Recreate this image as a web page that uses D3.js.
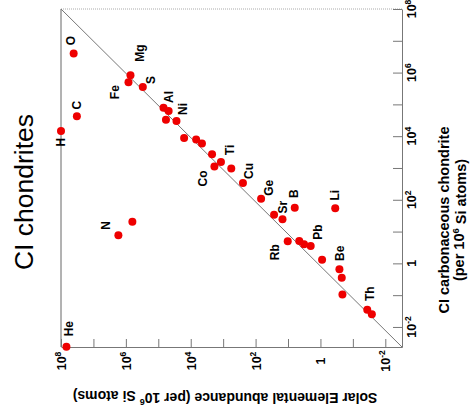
<!DOCTYPE html>
<html>
<head>
<meta charset="utf-8">
<script src="https://cdn.jsdelivr.net/npm/d3@7"></script>
<style>
  body { margin: 0; background: #fff; }
  svg { display: block; }
</style>
</head>
<body>
<div id="chart"></div>
<script>
// element names ("" = unlabelled point)
const elements = ["H", "He", "O", "C", "", "N", "Mg", "Fe", "S", "", "Al", "", "Ni", "", "", "", "",
  "Ti", "Co", "", "Cu", "Ge", "", "Sr", "B", "Li", "Rb", "", "", "Pb", "", "Be", "", "", "Th", ""];

// solar abundance (per 10^6 Si atoms)
const solar = [1.0e8, 6.8e7, 4.07e7, 3.24e7, 6.3e5, 1.7e6, 7.2e5, 8.3e5, 3.0e5, 6.9e4, 4.8e4, 5.8e4, 2.75e4,
  1.6e4, 6.8e3, 4.5e3, 2.2e3, 1.17e3, 1.86e3, 562, 245, 67.6, 26.9, 14.8, 6.2, 0.35, 10.2, 4.5, 3.2, 2.0,
  0.89, 0.26, 0.22, 0.21, 0.036, 0.026];

// CI carbonaceous chondrite (per 10^6 Si atoms)
const chondrite = [1.45e4, 2.4e-3, 3.98e6, 4.27e4, 20.4, 7.6, 8.3e5, 5.0e5, 3.5e5, 7.9e4, 6.2e4, 3.3e4, 3.0e4,
  8.7e3, 7.8e3, 5.9e3, 2.7e3, 1.55e3, 1.12e3, 955, 339, 107, 33.9, 24.5, 56, 54, 5.0, 5.1, 4.0, 3.5,
  1.29, 0.65, 0.35, 0.105, 0.035, 0.025];

const tickExponents = [8, 7, 6, 5, 4, 3, 2, 1, 0, -1, -2];
const labelExponents = [8, 6, 4, 2, 0, -2];

const W = 470, H = 417;
const plot = {left: 61, right: 402, top: 9, bottom: 347};
const font = "'Liberation Sans', Arial, Helvetica, sans-serif";

const svg = d3.select("#chart").append("svg")
  .attr("width", W).attr("height", H)
  .style("font-family", font);

// solar runs right-to-left along the bottom, chondrite bottom-to-top on the right
const x = d3.scaleLog().domain([1e8, Math.pow(10, -2.515)]).range([plot.left, plot.right]);
const y = d3.scaleLog().domain([Math.pow(10, -2.63), 1e8]).range([plot.bottom, plot.top]);

const data = elements.map((e, i) => ({ name: e, solar: solar[i], ci: chondrite[i] }));

// frame: top and left edges are faint
svg.append("line").attr("x1", plot.left).attr("x2", plot.right).attr("y1", plot.top).attr("y2", plot.top)
  .attr("stroke", "#aaa").attr("stroke-dasharray", "1,1");
svg.append("line").attr("x1", plot.left).attr("x2", plot.left).attr("y1", plot.top).attr("y2", plot.bottom)
  .attr("stroke", "#666");

// 1:1 line
svg.append("line")
  .attr("x1", x.range()[0]).attr("y1", y.range()[1])
  .attr("x2", x.range()[1]).attr("y2", y.range()[0])
  .attr("stroke", "#777").attr("stroke-width", 1);

// axes with inward ticks
const tickVals = tickExponents.map(e => Math.pow(10, e));
const xAxis = svg.append("g")
  .attr("transform", `translate(0,${plot.bottom})`)
  .call(d3.axisBottom(x).tickValues(tickVals).tickSizeInner(-8).tickSizeOuter(0).tickFormat(""));
const yAxis = svg.append("g")
  .attr("transform", `translate(${plot.right},0)`)
  .call(d3.axisRight(y).tickValues(tickVals).tickSizeInner(-9).tickSizeOuter(0).tickFormat(""));
[xAxis, yAxis].forEach(a => {
  a.select(".domain").attr("stroke", "#777");
  a.selectAll(".tick line").attr("stroke", "#777");
});

function powLabel(sel, e, supSize) {
  if (e === 0) { sel.text("1"); return; }
  sel.append("tspan").text("10");
  sel.append("tspan").attr("dy", "-0.45em").style("font-size", supSize).text(e);
}

// tick labels (rotated)
labelExponents.forEach(e => {
  const t1 = svg.append("text")
    .attr("transform", `translate(${x(Math.pow(10, e)) + 1},361) rotate(-90)`)
    .attr("text-anchor", "middle").attr("dominant-baseline", "central")
    .style("font-size", "12.5px").style("font-weight", "bold");
  powLabel(t1, e, "8.5px");
  const t2 = svg.append("text")
    .attr("transform", `translate(412,${y(Math.pow(10, e))}) rotate(-90)`)
    .attr("text-anchor", "middle").attr("dominant-baseline", "central")
    .style("font-size", "12.5px").style("font-weight", "bold");
  powLabel(t2, e, "8.5px");
});

// axis titles
svg.append("text")
  .attr("transform", "translate(444,220) rotate(-90)")
  .attr("text-anchor", "middle").attr("dominant-baseline", "central")
  .style("font-size", "14.5px").style("font-weight", "bold")
  .text("CI carbonaceous chondrite");
const t3 = svg.append("text")
  .attr("transform", "translate(459,220) rotate(-90)")
  .attr("text-anchor", "middle").attr("dominant-baseline", "central")
  .style("font-size", "14.5px").style("font-weight", "bold");
t3.append("tspan").text("(per 10");
t3.append("tspan").attr("dy", "-0.45em").style("font-size", "9.5px").text("6");
t3.append("tspan").attr("dy", "0.45em").text(" Si atoms)");

const t4 = svg.append("text")
  .attr("transform", "translate(225,398) rotate(180)")
  .attr("text-anchor", "middle").attr("dominant-baseline", "central")
  .style("font-size", "14px").style("font-weight", "bold");
t4.append("tspan").text("Solar Elemental abundance (per 10");
t4.append("tspan").attr("dy", "-0.45em").style("font-size", "9px").text("6");
t4.append("tspan").attr("dy", "0.45em").text(" Si atoms)");

// chart title
svg.append("text")
  .attr("transform", "translate(33,192) rotate(-90)")
  .attr("text-anchor", "middle")
  .style("font-size", "26.5px")
  .text("CI chondrites");

// points
svg.selectAll("circle.pt")
  .data(data)
  .join("circle")
    .attr("class", "pt")
    .attr("cx", d => x(d.solar))
    .attr("cy", d => y(d.ci))
    .attr("r", 4)
    .style("fill", "#ee0000");

// label offsets from their point
const labelOffset = {
  H: [0, 11], He: [3, -18], O: [-3, -13], C: [0, -11], N: [-12, -10], Mg: [10, -22],
  Fe: [-13, 10], S: [8, -7], Al: [0, -14], Ni: [7, -12], Ti: [9, -12], Co: [-11, 12],
  Cu: [6, -12], Ge: [8, -11], Sr: [1, -12], B: [-1, -14], Li: [0, -13], Rb: [-13, 11],
  Pb: [7, -14], Be: [1, -16], Th: [3, -16]
};

svg.selectAll("text.lbl")
  .data(data.filter(d => d.name !== ""))
  .join("text")
    .attr("class", "lbl")
    .attr("transform", d => {
      const o = labelOffset[d.name];
      return `translate(${x(d.solar) + o[0]},${y(d.ci) + o[1]}) rotate(-90)`;
    })
    .attr("text-anchor", "middle").attr("dominant-baseline", "central")
    .style("font-size", "12px").style("font-weight", "bold")
    .text(d => d.name);
</script>
</body>
</html>
